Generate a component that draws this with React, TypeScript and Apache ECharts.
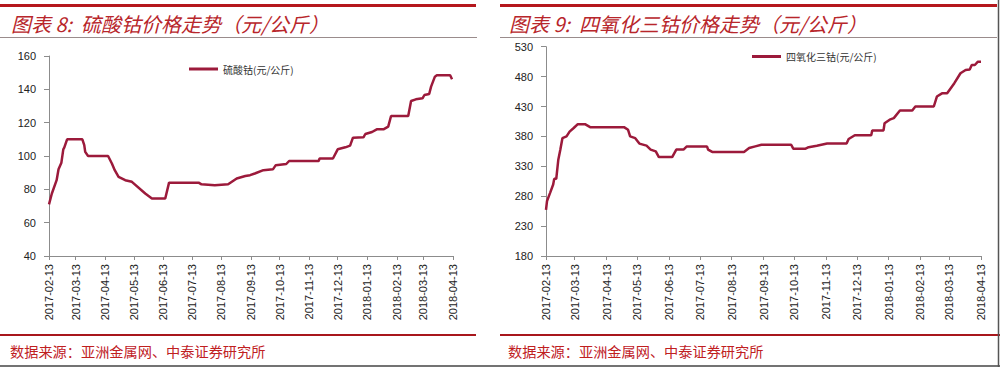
import React, { useEffect, useRef } from 'react';
import * as echarts from 'echarts';

// x-axis tick labels (monthly, 13th)
const tickDates = [
  '2017-02-13', '2017-03-13', '2017-04-13', '2017-05-13', '2017-06-13',
  '2017-07-13', '2017-08-13', '2017-09-13', '2017-10-13', '2017-11-13',
  '2017-12-13', '2018-01-13', '2018-02-13', '2018-03-13', '2018-04-13',
];

// 硫酸钴 (元/公斤)
const cobaltSulfateDates = [
  '2017-02-13', '2017-02-16', '2017-02-21', '2017-02-23', '2017-02-26', '2017-02-28',
  '2017-03-01', '2017-03-04', '2017-03-20', '2017-03-22', '2017-03-23', '2017-03-26',
  '2017-04-16', '2017-04-20', '2017-04-23', '2017-04-27', '2017-05-04', '2017-05-11',
  '2017-05-25', '2017-06-01', '2017-06-15', '2017-06-19', '2017-07-20', '2017-07-23',
  '2017-08-06', '2017-08-20', '2017-08-29', '2017-09-07', '2017-09-12', '2017-09-17',
  '2017-09-26', '2017-10-06', '2017-10-09', '2017-10-20', '2017-10-23', '2017-11-23',
  '2017-11-24', '2017-12-08', '2017-12-13', '2017-12-21', '2017-12-26', '2017-12-29',
  '2018-01-09', '2018-01-11', '2018-01-18', '2018-01-23', '2018-01-30', '2018-02-04',
  '2018-02-07', '2018-02-25', '2018-02-28', '2018-03-05', '2018-03-12', '2018-03-14',
  '2018-03-19', '2018-03-21', '2018-03-25', '2018-03-27', '2018-04-10', '2018-04-12',
];
const cobaltSulfateValues = [
  71, 77.5, 85.5, 92, 96, 104,
  105, 110, 110, 106.5, 102.5, 100,
  100, 95.5, 91.5, 87.5, 85.5, 84.5,
  77.5, 74.5, 74.5, 84, 84, 83,
  82.5, 83, 86.5, 88, 88.5, 89.5,
  91.5, 92, 94.5, 95.2, 97, 97,
  98.5, 98.5, 104, 105.2, 106.2, 111,
  111.2, 113.2, 114.4, 116, 116, 117.6,
  124, 124, 133, 134, 134.6, 136.6,
  137.2, 141.6, 147.6, 148.4, 148.4, 146,
];

// 四氧化三钴 (元/公斤)
const cobaltOxideDates = [
  '2017-02-13', '2017-02-14', '2017-02-17', '2017-02-20', '2017-02-21', '2017-02-23',
  '2017-02-25', '2017-02-27', '2017-03-01', '2017-03-05', '2017-03-08', '2017-03-12',
  '2017-03-16', '2017-03-23', '2017-03-28', '2017-04-30', '2017-05-04', '2017-05-06',
  '2017-05-11', '2017-05-15', '2017-05-22', '2017-05-26', '2017-05-31', '2017-06-03',
  '2017-06-16', '2017-06-20', '2017-06-27', '2017-06-30', '2017-07-20', '2017-07-21',
  '2017-07-25', '2017-08-25', '2017-08-30', '2017-09-05', '2017-09-11', '2017-10-10',
  '2017-10-12', '2017-10-24', '2017-10-27', '2017-11-04', '2017-11-14', '2017-12-03',
  '2017-12-05', '2017-12-11', '2017-12-27', '2017-12-28', '2018-01-08', '2018-01-09',
  '2018-01-14', '2018-01-18', '2018-01-24', '2018-02-05', '2018-02-08', '2018-02-26',
  '2018-03-01', '2018-03-06', '2018-03-11', '2018-03-18', '2018-03-24', '2018-03-29',
  '2018-04-02', '2018-04-04', '2018-04-07', '2018-04-10', '2018-04-13',
];
const cobaltOxideValues = [
  257, 272, 285.6, 299.5, 309, 309,
  341, 358, 377, 380, 388, 394,
  400.5, 400.5, 395.5, 395.5, 391, 380,
  377, 368, 364.5, 358, 355, 345.5,
  345.5, 358, 358, 363, 363, 358,
  354, 354, 360.5, 363.3, 366, 366,
  359.5, 359.5, 362, 364.5, 368, 368,
  375.6, 382, 382, 390, 390, 402,
  408, 410.6, 423.3, 423.3, 430, 430,
  446.7, 452, 452, 469, 485.6, 491,
  492, 499.4, 499.4, 505, 505,
];

const leftYMin = 40;
const leftYMax = 160;
const leftYStep = 20;
const rightYTicks = [180, 230, 280, 330, 380, 430, 480, 530];

const leftName = '硫酸钴(元/公斤)';
const rightName = '四氧化三钴(元/公斤)';
const leftTitle = '图表 8:  硫酸钴价格走势（元/公斤）';
const rightTitle = '图表 9:  四氧化三钴价格走势（元/公斤）';
const sourceText = '数据来源：亚洲金属网、中泰证券研究所';

const LINE_COLOR = '#9c1a3b';
const AXIS_COLOR = '#8c8c8c';
const RED = '#b5171d';
const TITLE_RED = '#b8262b';
const LABEL_FONT = '"Liberation Sans", Arial, sans-serif';
const CJK_FONT = '"Noto Sans CJK SC", sans-serif';

function ts(s: string): number {
  const [y, m, d] = s.split('-').map(Number);
  return new Date(y, m - 1, d).getTime();
}
function pad(n: number): string {
  return n < 10 ? '0' + n : '' + n;
}
function fmtDate(v: number): string {
  const d = new Date(v);
  return `${d.getFullYear()}-${pad(d.getMonth() + 1)}-${pad(d.getDate())}`;
}

export default function App() {
  const ref = useRef<HTMLDivElement>(null);

  useEffect(() => {
    if (!ref.current) return;
    const chart = echarts.init(ref.current, undefined, { renderer: 'svg' });
    const tickTs = tickDates.map(ts);

    const makeX = (gridIndex: number) => ({
      type: 'value',
      gridIndex,
      min: tickTs[0],
      max: tickTs[tickTs.length - 1],
      axisLine: { show: true, onZero: false, lineStyle: { color: AXIS_COLOR, width: 1 } },
      axisTick: { show: true, length: 4, customValues: tickTs, lineStyle: { color: AXIS_COLOR } },
      axisLabel: {
        customValues: tickTs,
        formatter: (v: number) => fmtDate(v),
        rotate: 90,
        fontSize: 11,
        color: '#222',
        fontFamily: LABEL_FONT,
        margin: 8,
        hideOverlap: false,
      },
      splitLine: { show: false },
    });

    const yCommon = {
      type: 'value',
      axisLine: { show: true, lineStyle: { color: AXIS_COLOR, width: 1 } },
      axisTick: { show: true, length: 5, lineStyle: { color: AXIS_COLOR } },
      splitLine: { show: false },
    };

    const graphicEls: any[] = [
      { type: 'rect', shape: { x: 0, y: 4, width: 476, height: 3 }, style: { fill: RED } },
      { type: 'rect', shape: { x: 500, y: 4, width: 497, height: 3 }, style: { fill: RED } },
      { type: 'line', shape: { x1: 0, y1: 37.5, x2: 477, y2: 37.5 }, style: { stroke: '#9a8c8c', lineWidth: 1 } },
      { type: 'line', shape: { x1: 500, y1: 37.5, x2: 997, y2: 37.5 }, style: { stroke: '#9a8c8c', lineWidth: 1 } },
      {
        type: 'text', x: 11, y: 23,
        style: { text: leftTitle, fill: TITLE_RED, font: `italic 20px ${CJK_FONT}`, verticalAlign: 'middle' },
      },
      {
        type: 'text', x: 509, y: 23,
        style: { text: rightTitle, fill: TITLE_RED, font: `italic 20px ${CJK_FONT}`, verticalAlign: 'middle' },
      },
      { type: 'rect', shape: { x: 0, y: 334, width: 476, height: 2 }, style: { fill: '#a8171c' } },
      { type: 'rect', shape: { x: 500, y: 334, width: 500, height: 2 }, style: { fill: '#a8171c' } },
      {
        type: 'text', x: 10, y: 351,
        style: { text: sourceText, fill: '#c0201f', font: `14.2px ${CJK_FONT}`, verticalAlign: 'middle' },
      },
      {
        type: 'text', x: 508, y: 351,
        style: { text: sourceText, fill: '#c0201f', font: `14.2px ${CJK_FONT}`, verticalAlign: 'middle' },
      },
      { type: 'line', shape: { x1: 0, y1: 366, x2: 1000, y2: 366 }, style: { stroke: '#444', lineWidth: 1.5 } },
      { type: 'line', shape: { x1: 998.5, y1: 0, x2: 998.5, y2: 367 }, style: { stroke: '#555', lineWidth: 1.5 } },
    ];

    chart.setOption({
      animation: false,
      backgroundColor: '#ffffff',
      grid: [
        { left: 49, top: 56, width: 404, height: 200 },
        { left: 546, top: 46.7, width: 435, height: 209.3 },
      ],
      xAxis: [makeX(0), makeX(1)],
      yAxis: [
        {
          ...yCommon,
          gridIndex: 0,
          min: leftYMin,
          max: leftYMax,
          interval: leftYStep,
          axisLabel: { fontSize: 11, color: '#222', fontFamily: LABEL_FONT, margin: 13 },
        },
        {
          ...yCommon,
          gridIndex: 1,
          min: rightYTicks[0],
          max: rightYTicks[rightYTicks.length - 1],
          axisTick: { show: true, length: 5, customValues: rightYTicks, lineStyle: { color: AXIS_COLOR } },
          axisLabel: { customValues: rightYTicks, fontSize: 11, color: '#222', fontFamily: LABEL_FONT, margin: 13 },
        },
      ],
      legend: [
        {
          data: [leftName],
          left: 184,
          top: 59,
          icon: 'rect',
          itemWidth: 29,
          itemHeight: 3,
          textStyle: { fontSize: 10, color: '#333', fontFamily: CJK_FONT },
        },
        {
          data: [rightName],
          left: 747,
          top: 46.5,
          icon: 'rect',
          itemWidth: 29,
          itemHeight: 3,
          textStyle: { fontSize: 10, color: '#333', fontFamily: CJK_FONT },
        },
      ],
      series: [
        {
          name: leftName,
          type: 'line',
          xAxisIndex: 0,
          yAxisIndex: 0,
          showSymbol: false,
          symbol: 'none',
          lineStyle: { color: LINE_COLOR, width: 2.5 },
          itemStyle: { color: LINE_COLOR },
          data: cobaltSulfateDates.map((d, i) => [ts(d), cobaltSulfateValues[i]]),
        },
        {
          name: rightName,
          type: 'line',
          xAxisIndex: 1,
          yAxisIndex: 1,
          showSymbol: false,
          symbol: 'none',
          lineStyle: { color: LINE_COLOR, width: 2.5 },
          itemStyle: { color: LINE_COLOR },
          data: cobaltOxideDates.map((d, i) => [ts(d), cobaltOxideValues[i]]),
        },
      ],
      graphic: graphicEls,
    });

    return () => chart.dispose();
  }, []);

  return (
    <div
      ref={ref}
      style={{ position: 'absolute', left: 0, top: 0, width: 1000, height: 367, background: '#fff' }}
    />
  );
}
